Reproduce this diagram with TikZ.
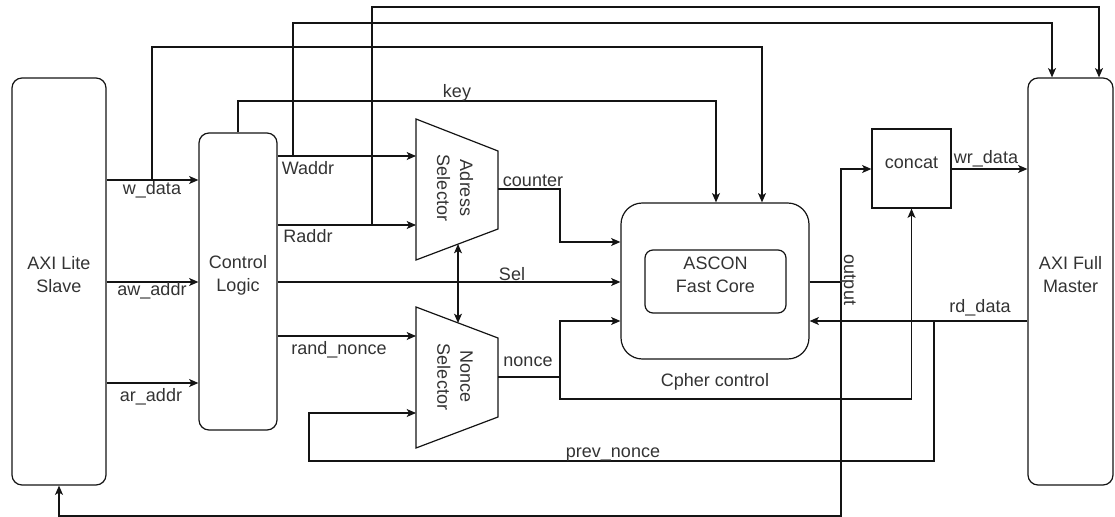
\documentclass[tikz,border=0pt]{standalone}
\usepackage{fontspec}
\setmainfont{Liberation Sans}
\usetikzlibrary{arrows.meta,fit}
\definecolor{ink}{RGB}{20,20,20}
\definecolor{txt}{RGB}{51,51,51}
\newcommand{\lblfont}{\fontsize{13.5}{17.25}\selectfont}
\begin{document}
\begin{tikzpicture}[x=0.75pt,y=-0.75pt,
  wire/.style={draw=ink, line width=0.9pt, line join=miter},
  tip/.tip={Stealth[length=7pt,width=6pt,inset=1.8pt]},
  arr/.style={wire, -tip},
  darr/.style={wire, tip-tip},
  block/.style={draw=ink, line width=0.9pt, inner sep=0pt, align=center,
                text=txt, font=\lblfont},
  lbl/.style={text=txt, font=\lblfont, inner sep=0pt, anchor=base},
  vlbl/.style={text=txt, font=\lblfont, inner sep=0pt, align=center, rotate=-90}]

\useasboundingbox (0,0) rectangle (1115,517);

% ---- main blocks ----
\node[block, rounded corners=7.5pt, fit={(12,78) (106,485)}] (slave) {AXI Lite\\Slave};
\node[block, rounded corners=7.5pt, fit={(199,133) (277,430)}] (ctrl) {Control\\Logic};
\node[block, rounded corners=7.5pt, fit={(1028,78) (1113,485)}] (master) {AXI Full\\Master};
\node[block, rounded corners=16pt, fit={(621,203) (809,359)}] (cipher) {};
\node[block, rounded corners=6pt, fit={(645,250) (786,313)}] (core) {ASCON\\Fast Core};
\node[block, fit={(872,129) (951,208)}] (concat) {concat};
\node[lbl] (cipherlbl) at (715,386) {Cpher control};

% ---- multiplexers ----
\draw[wire] (416,119) coordinate (asA) -- (498,151) coordinate (asB)
  -- (498,229) coordinate (asC) -- (416,260) coordinate (asD) -- cycle;
\node[vlbl] (addrsel) at (455,188) {Adress\\Selector};
\draw[wire] (416,307) coordinate (nsA) -- (498,338) coordinate (nsB)
  -- (498,417) coordinate (nsC) -- (416,448) coordinate (nsD) -- cycle;
\node[vlbl] (noncesel) at (455,377) {Nonce\\Selector};

% ---- junction points ----
\coordinate (wj)  at (152,180);
\coordinate (waj) at (293,156);
\coordinate (raj) at (372,225);
\coordinate (selT) at (458,244);
\coordinate (selB) at (458,323);
\coordinate (nj)  at (560,377);
\coordinate (oj)  at (841,282);
\coordinate (rj)  at (934,321);

% ---- slave to control logic ----
\draw[arr] (slave.east |- wj) -- (ctrl.west |- wj);
\draw[arr] (slave.east |- 0,282) -- (ctrl.west |- 0,282);
\draw[arr] (slave.east |- 0,383) -- (ctrl.west |- 0,383);
\draw[arr] (wj) |- (762,47) -- (762,0 |- cipher.north);

% ---- control logic outputs ----
\draw[arr] (ctrl.north) |- (716,101) -- (716,0 |- cipher.north);
\draw[arr] (ctrl.east |- waj) -- (asA |- waj);
\draw[arr] (waj) |- (1052,23) -- (1052,0 |- master.north);
\draw[arr] (ctrl.east |- raj) -- (asA |- raj);
\draw[arr] (raj) |- (1099,7) -- (1099,0 |- master.north);
\draw[arr] (ctrl.east |- 0,282) -- (cipher.west |- 0,282);
\draw[arr] (ctrl.east |- 0,336) -- (nsA |- 0,336);
\draw[darr] (selT) -- (selB);

% ---- selector outputs ----
\draw[arr] (asB |- 0,189) -| (560,242) -- (cipher.west |- 0,242);
\draw[wire] (nsB |- nj) -- (nj);
\draw[arr] (nj) |- (cipher.west |- 0,321);
\draw[arr] (nj) |- (911.5,399) -- (concat.south);

% ---- cipher output ----
\draw[wire] (cipher.east |- oj) -- (oj);
\draw[arr] (oj) |- (concat.west |- 0,169);
\draw[arr] (oj) -- (841,516) -| (slave.south);

% ---- master side ----
\draw[arr] (concat.east |- 0,169) -- (master.west |- 0,169);
\draw[arr] (master.west |- rj) -- (cipher.east |- rj);
\draw[arr] (rj) |- (309,461) |- (nsA |- 0,413);

% ---- signal labels ----
\node[lbl] (l1)  at (152,195) {w\_data};
\node[lbl] (l2)  at (152,295) {aw\_addr};
\node[lbl] (l3)  at (151,401) {ar\_addr};
\node[lbl] (l4)  at (308,175) {Waddr};
\node[lbl] (l5)  at (308,242) {Raddr};
\node[lbl] (l6)  at (339,354) {rand\_nonce};
\node[lbl] (l7)  at (457,98)  {key};
\node[lbl] (l8)  at (533,186) {counter};
\node[lbl] (l9)  at (512,280) {Sel};
\node[lbl] (l10) at (528,366) {nonce};
\node[lbl] (l11) at (613,457) {prev\_nonce};
\node[lbl] (l12) at (986,163) {wr\_data};
\node[lbl] (l13) at (980,312) {rd\_data};
\node[vlbl] (l14) at (848,280) {output};

\end{tikzpicture}
\end{document}
